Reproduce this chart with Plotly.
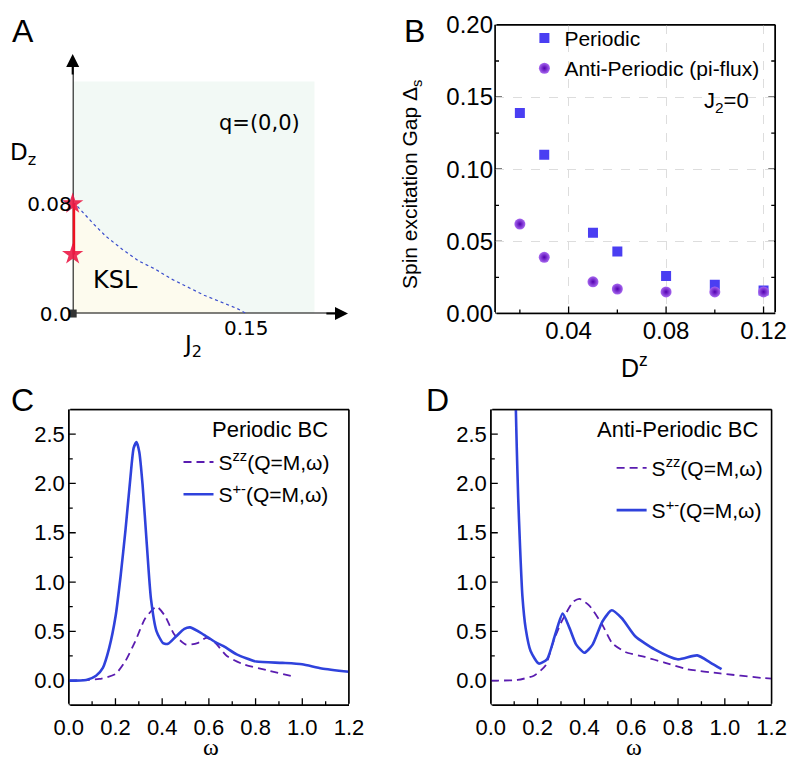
import plotly.graph_objects as go

# ---------------- panel A : phase diagram ----------------
ksl_j2 = [0.0, 0.002, 0.0175, 0.0288, 0.043, 0.057, 0.0712, 0.0853, 0.0994, 0.1136, 0.1277, 0.1418, 0.15]
ksl_dz = [0.08, 0.080, 0.0657, 0.0562, 0.0467, 0.0383, 0.0324, 0.0252, 0.0193, 0.0133, 0.0086, 0.0038, 0.0]
star_j2 = [0.0, 0.0]
star_dz = [0.043, 0.08]
origin_j2 = [0.0]
origin_dz = [0.0]

# ---------------- panel B : spin gap ----------------
dz = [0.02, 0.03, 0.05, 0.06, 0.08, 0.10, 0.12]
gap_periodic = [0.139, 0.110, 0.056, 0.043, 0.026, 0.020, 0.016]
gap_anti = [0.062, 0.039, 0.022, 0.017, 0.015, 0.015, 0.015]

# ---------------- panel C : periodic BC ----------------
c_pm_w = [0.0, 0.075, 0.117, 0.146, 0.173, 0.201, 0.222, 0.243, 0.264, 0.278, 0.29, 0.302, 0.316,
          0.334, 0.352, 0.376, 0.404, 0.425, 0.46, 0.495, 0.52, 0.579, 0.635, 0.663, 0.719, 0.803,
          0.915, 0.999, 1.083, 1.2]
c_pm_s = [0.0, 0.007, 0.05, 0.13, 0.33, 0.66, 1.06, 1.53, 2.06, 2.36, 2.42, 2.32, 1.99,
          1.39, 0.83, 0.50, 0.38, 0.373, 0.45, 0.525, 0.54, 0.465, 0.38, 0.35, 0.266, 0.193,
          0.18, 0.166, 0.123, 0.09]
c_zz_w = [0.0, 0.131, 0.2, 0.243, 0.285, 0.327, 0.376, 0.411, 0.453, 0.502, 0.551, 0.59, 0.625,
          0.677, 0.747, 0.845, 0.964]
c_zz_s = [0.0, 0.017, 0.067, 0.2, 0.4, 0.63, 0.75, 0.66, 0.465, 0.365, 0.38, 0.435, 0.39,
          0.25, 0.166, 0.107, 0.04]

# ---------------- panel D : anti-periodic BC ----------------
d_pm_w = [0.103, 0.107, 0.111, 0.117, 0.125, 0.135, 0.149, 0.17, 0.205, 0.24, 0.275, 0.307, 0.337,
          0.365, 0.40, 0.435, 0.477, 0.517, 0.561, 0.617, 0.70, 0.798, 0.882, 0.938, 0.986]
d_pm_s = [3.3, 2.76, 2.36, 1.86, 1.36, 0.86, 0.53, 0.30, 0.173, 0.216, 0.465, 0.68, 0.53,
          0.365, 0.283, 0.365, 0.6, 0.714, 0.63, 0.45, 0.316, 0.216, 0.256, 0.183, 0.116]
d_zz_w = [0.0, 0.114, 0.184, 0.233, 0.268, 0.303, 0.352, 0.379, 0.421, 0.477, 0.519, 0.575,
          0.658, 0.742, 0.84, 0.98, 1.161, 1.2]
d_zz_s = [0.0, 0.007, 0.05, 0.15, 0.4, 0.6, 0.8, 0.83, 0.76, 0.565, 0.38, 0.29,
          0.24, 0.183, 0.116, 0.073, 0.027, 0.02]

SANS = 'Liberation Sans, Arial, sans-serif'
DJV = 'DejaVu Sans, sans-serif'
SERIF = 'Liberation Serif, Times New Roman, serif'
BLUE = '#2f42dc'
PURPLE = '#5a1cb0'
A_XMAX, A_YMAX = 0.238, 0.189
# page body keeps an 8px margin, so the figure is made 16px smaller than the window
W, H = 780, 757


def px(x):
    return x / 796


def py(y):
    return 1 - y / 773


def steps(start, stop, step):
    n = int(round((stop - start) / step))
    return [round(start + i * step, 4) for i in range(n + 1)]


DOM_A_X, DOM_A_Y = [px(66), px(347)], [py(312), py(47)]
DOM_B_X, DOM_B_Y = [px(497), px(783)], [py(312), py(17)]
DOM_C_X, DOM_D_X = [px(62), px(348)], [px(492.7), px(779.3)]
DOM_CD_Y = [py(712), py(410)]
RNG_B_X, RNG_B_Y = [0.0098, 0.1248], [0, 0.2002]
RNG_W, RNG_S = [0, 1.2], [-0.25, 2.75]

fig = go.Figure()

#------------------ A ------------------#
ksl_path = 'M 0,0 ' + ' '.join(f'L {a},{b}' for a, b in zip(ksl_j2, ksl_dz)) + ' Z'
fig.add_shape(type='rect', xref='x', yref='y', x0=0, x1=0.209, y0=0, y1=0.169,
              fillcolor='#f2f9f5', line_width=0, layer='below')
fig.add_shape(type='path', xref='x', yref='y', path=ksl_path,
              fillcolor='#fdfbee', line_width=0, layer='below')
fig.add_shape(type='line', xref='x', yref='y', x0=0, x1=A_XMAX - 0.01, y0=0, y1=0,
              line=dict(color='black', width=2), layer='below')
fig.add_shape(type='line', xref='x', yref='y', x0=0, x1=0, y0=0, y1=A_YMAX - 0.008,
              line=dict(color='black', width=2), layer='below')
fig.add_trace(go.Scatter(x=ksl_j2, y=ksl_dz, mode='lines', xaxis='x', yaxis='y',
                         line=dict(color='#3a4ccc', width=1.2, dash='dot'),
                         showlegend=False, hoverinfo='skip'))
fig.add_trace(go.Scatter(x=star_j2, y=star_dz, mode='lines+markers', xaxis='x', yaxis='y',
                         line=dict(color='#ee1020', width=5),
                         marker=dict(symbol='star', size=16, color='rgba(235,25,70,0.9)'),
                         showlegend=False, cliponaxis=False, hoverinfo='skip'))
fig.add_trace(go.Scatter(x=origin_j2, y=origin_dz, mode='markers', xaxis='x', yaxis='y',
                         marker=dict(symbol='square', size=8, color='#333333'),
                         showlegend=False, cliponaxis=False, hoverinfo='skip'))

#------------------ B ------------------#
fig.add_trace(go.Scatter(x=dz, y=gap_periodic, mode='markers', name='Periodic',
                         xaxis='x2', yaxis='y2', legend='legend',
                         marker=dict(symbol='square', size=10, color='#4a3ef2')))
fig.add_trace(go.Scatter(x=dz, y=gap_anti, mode='markers', name='Anti-Periodic (pi-flux)',
                         xaxis='x2', yaxis='y2', legend='legend',
                         marker=dict(symbol='circle', size=11, color='#a868f0',
                                     gradient=dict(type='radial', color='#5200b0'))))

#------------------ C ------------------#
fig.add_trace(go.Scatter(x=c_zz_w, y=c_zz_s, mode='lines', name='S<sup>zz</sup>(Q=M,ω)',
                         xaxis='x3', yaxis='y3', legend='legend2', legendgroup='c1',
                         line=dict(color=PURPLE, width=1.8, dash='8px,5px', shape='spline', smoothing=0.6)))
fig.add_trace(go.Scatter(x=c_pm_w, y=c_pm_s, mode='lines', name='S<sup>+-</sup>(Q=M,ω)',
                         xaxis='x3', yaxis='y3', legend='legend2', legendgroup='c2',
                         line=dict(color=BLUE, width=2.6, shape='spline', smoothing=0.6)))

#------------------ D ------------------#
fig.add_trace(go.Scatter(x=d_zz_w, y=d_zz_s, mode='lines', name='S<sup>zz</sup>(Q=M,ω)',
                         xaxis='x4', yaxis='y4', legend='legend3', legendgroup='d1',
                         line=dict(color=PURPLE, width=1.8, dash='8px,5px', shape='spline', smoothing=0.6)))
fig.add_trace(go.Scatter(x=d_pm_w, y=d_pm_s, mode='lines', name='S<sup>+-</sup>(Q=M,ω)',
                         xaxis='x4', yaxis='y4', legend='legend3', legendgroup='d2',
                         line=dict(color=BLUE, width=2.6, shape='spline', smoothing=0.6)))

#------------------ frame boxes and tick marks ------------------#
ann = []
TICK = dict(color='black', width=1.3)


def add_box(xa, ya, xrng, yrng, xdom, ydom, xmaj, xmin, ymaj, ymin, mirror_y=False):
    sx = (xrng[1] - xrng[0]) / ((xdom[1] - xdom[0]) * W)   # data units per pixel
    sy = (yrng[1] - yrng[0]) / ((ydom[1] - ydom[0]) * H)
    x0, x1 = xrng
    y0, y1 = yrng
    # frame edges as plain annotation arrows (no head)
    for (hx, hy, tx, ty) in [(x1, y0, x0, y0), (x1, y1, x0, y1), (x0, y1, x0, y0), (x1, y1, x1, y0)]:
        ann.append(dict(text='', x=hx, y=hy, ax=tx, ay=ty, xref=xa, yref=ya, axref=xa, ayref=ya,
                        showarrow=True, arrowhead=0, arrowwidth=1.5, arrowcolor='black'))
    fig.add_shape(type='rect', xref=xa, yref=ya, x0=x0, x1=x1, y0=y0, y1=y1,
                  line=dict(color='black', width=1.5), fillcolor='rgba(0,0,0,0)', layer='below')
    for vals, ln in [(xmaj, 7), (xmin, 4)]:
        for v in vals:
            fig.add_shape(type='line', xref=xa, yref=ya, x0=v, x1=v, y0=y0, y1=y0 + ln * sy,
                          line=TICK, layer='below')
    for vals, ln in [(ymaj, 7), (ymin, 4)]:
        for v in vals:
            fig.add_shape(type='line', xref=xa, yref=ya, x0=x0, x1=x0 + ln * sx, y0=v, y1=v,
                          line=TICK, layer='below')
            if mirror_y:
                fig.add_shape(type='line', xref=xa, yref=ya, x0=x1 - ln * sx, x1=x1, y0=v, y1=v,
                              line=TICK, layer='below')


add_box('x2', 'y2', RNG_B_X, RNG_B_Y, DOM_B_X, DOM_B_Y,
        steps(0.04, 0.12, 0.04), steps(0.02, 0.10, 0.04),
        steps(0.05, 0.15, 0.05), steps(0.025, 0.175, 0.05), mirror_y=True)
for xa, ya, xdom in [('x3', 'y3', DOM_C_X), ('x4', 'y4', DOM_D_X)]:
    add_box(xa, ya, RNG_W, RNG_S, xdom, DOM_CD_Y,
            steps(0.2, 1.0, 0.2), steps(0.1, 1.1, 0.2),
            steps(0.0, 2.5, 0.5), steps(0.25, 2.25, 0.5))

noline = dict(showline=False, zeroline=False, automargin=False, ticks='')
spec_x = dict(noline, range=RNG_W, dtick=0.2, tick0=0, tickformat='.1f', showgrid=False,
              ticklabelstandoff=7, tickfont=dict(family=SANS, size=22, color='black'))
spec_y = dict(noline, range=RNG_S, dtick=0.5, tick0=0, tickformat='.1f', showgrid=False,
              ticklabelstandoff=3, tickfont=dict(family=SANS, size=22, color='black'))

fig.update_layout(
    template='none',
    width=W, height=H,
    margin=dict(l=0, r=0, t=0, b=0),
    paper_bgcolor='white', plot_bgcolor='white',
    # A
    xaxis=dict(noline, domain=DOM_A_X, range=[0, A_XMAX], anchor='y', showgrid=False,
               tickvals=[0.15], ticktext=['0.15'], tickfont=dict(family=DJV, size=20, color='black')),
    yaxis=dict(noline, domain=DOM_A_Y, range=[0, A_YMAX], anchor='x', showgrid=False,
               tickvals=[0, 0.08], ticktext=['0.0', '0.08'], tickfont=dict(family=DJV, size=20, color='black')),
    # B
    xaxis2=dict(noline, domain=DOM_B_X, range=RNG_B_X, anchor='y2',
                dtick=0.04, tick0=0, tickformat='.2f',
                showgrid=True, gridcolor='#dddddd', griddash='dash', gridwidth=1,
                tickfont=dict(family=SANS, size=24, color='black')),
    yaxis2=dict(noline, domain=DOM_B_Y, range=RNG_B_Y, anchor='x2',
                dtick=0.05, tick0=0, tickformat='.2f', ticklabeloverflow='allow', ticklabelstandoff=1,
                showgrid=True, gridcolor='#dddddd', griddash='dash', gridwidth=1,
                tickfont=dict(family=SANS, size=24, color='black')),
    # C
    xaxis3=dict(spec_x, domain=DOM_C_X, anchor='y3'),
    yaxis3=dict(spec_y, domain=DOM_CD_Y, anchor='x3'),
    # D
    xaxis4=dict(spec_x, domain=DOM_D_X, anchor='y4'),
    yaxis4=dict(spec_y, domain=DOM_CD_Y, anchor='x4'),
    legend=dict(x=px(527), y=py(10), xanchor='left', yanchor='top', bgcolor='rgba(0,0,0,0)',
                font=dict(family=SANS, size=21, color='black')),
    legend2=dict(x=px(174), y=py(443), xanchor='left', yanchor='top', bgcolor='rgba(0,0,0,0)',
                 tracegroupgap=2, font=dict(family=SANS, size=21, color='black')),
    legend3=dict(x=px(616), y=py(449), xanchor='left', yanchor='top', bgcolor='rgba(0,0,0,0)',
                 tracegroupgap=12, font=dict(family=SANS, size=21, color='black')),
)

labels = []
for letter, x, y in [('A', 15, 23), ('B', 415, 23), ('C', 15, 400), ('D', 438, 400)]:
    labels.append(dict(text=letter, x=px(x), y=py(y), font=dict(family=SANS, size=32, color='black')))
labels += [
    dict(text='q=(0,0)', x=px(257), y=py(117), font=dict(family=DJV, size=21, color='black')),
    dict(text='KSL', x=px(110), y=py(278), font=dict(family=DJV, size=24, color='black')),
    dict(text='D<sub>z</sub>', x=px(0), y=py(149), xanchor='left', font=dict(family=DJV, size=23, color='black')),
    dict(text='J<sub>2</sub>', x=px(188), y=py(345), font=dict(family=DJV, size=23, color='black')),
    dict(text='Spin excitation Gap Δ<sub>s</sub>', x=px(412), y=py(180), textangle=-90,
         font=dict(family=SANS, size=21, color='black')),
    dict(text='J<sub>2</sub>=0', x=px(758), y=py(96), xanchor='right',
         font=dict(family=SANS, size=22, color='black')),
    dict(text='D<sup>z</sup>', x=px(639), y=py(366), font=dict(family=SANS, size=25, color='black')),
    dict(text='Periodic BC', x=px(267), y=py(430), font=dict(family=SANS, size=22, color='black')),
    dict(text='Anti-Periodic BC', x=px(684), y=py(430), font=dict(family=SANS, size=22, color='black')),
    dict(text='ω', x=px(207), y=py(755), font=dict(family=SERIF, size=24, color='black')),
    dict(text='ω', x=px(639), y=py(755), font=dict(family=SERIF, size=24, color='black')),
]
for a in labels:
    a.setdefault('xref', 'paper')
    a.setdefault('yref', 'paper')
    a.setdefault('xanchor', 'center')
    a.setdefault('yanchor', 'middle')
    a['showarrow'] = False
ann += labels
ann += [
    dict(text='', x=A_XMAX, y=0, ax=A_XMAX - 0.02, ay=0, xref='x', yref='y', axref='x', ayref='y',
         showarrow=True, arrowhead=2, arrowsize=1.3, arrowwidth=2, arrowcolor='black'),
    dict(text='', x=0, y=A_YMAX, ax=0, ay=A_YMAX - 0.016, xref='x', yref='y', axref='x', ayref='y',
         showarrow=True, arrowhead=2, arrowsize=1.3, arrowwidth=2, arrowcolor='black'),
]
fig.update_layout(annotations=ann)

fig.write_html('out.html')
